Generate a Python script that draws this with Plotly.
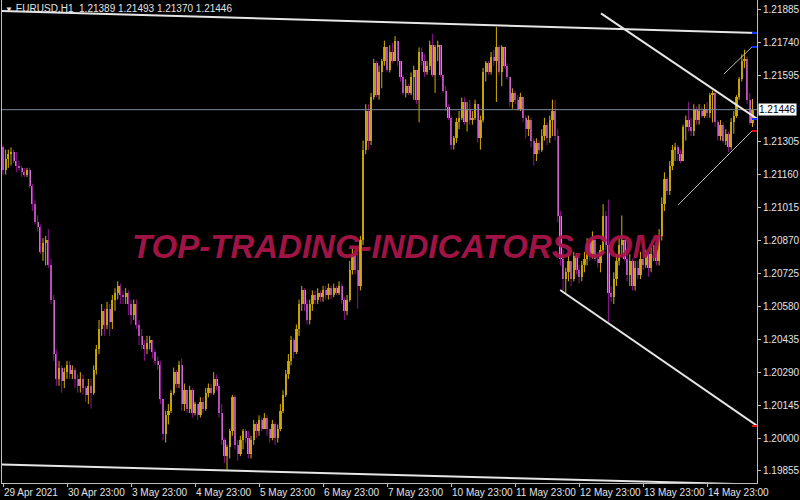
import plotly.graph_objects as go

# ---------------- data (EURUSD H1) ----------------
first_open = 1.2128
close = [
    1.2118, 1.2123, 1.2125, 1.2126, 1.2122, 1.2120, 1.2119, 1.2117, 1.2116, 1.2118,
    1.2111, 1.2103, 1.2095, 1.2093, 1.2082, 1.2086, 1.2087, 1.2076, 1.2061, 1.2037,
    1.2026, 1.2031, 1.2025, 1.2029, 1.2032, 1.2028, 1.2030, 1.2026, 1.2023, 1.2026,
    1.2022, 1.2019, 1.2023, 1.2020, 1.2030, 1.2039, 1.2048, 1.2056, 1.2050, 1.2057,
    1.2051, 1.2061, 1.2064, 1.2067, 1.2063, 1.2062, 1.2064, 1.2059, 1.2054, 1.2059,
    1.2050, 1.2045, 1.2041, 1.2039, 1.2042, 1.2043, 1.2038, 1.2034, 1.2032, 1.2017,
    1.2002, 1.2010, 1.2012, 1.2020, 1.2029, 1.2024, 1.2032, 1.2015, 1.2021, 1.2013,
    1.2021, 1.2011, 1.2015, 1.2010, 1.2016, 1.2013, 1.2020, 1.2022, 1.2020, 1.2026,
    1.2023, 1.2011, 1.1999, 1.1992, 1.1996, 1.2003, 1.2018, 1.1997, 1.1993, 1.1999,
    1.2003, 1.2000, 1.1993, 1.1999, 1.2006, 1.2003, 1.2008, 1.2004, 1.2009, 1.2004,
    1.2000, 1.2006, 1.2000, 1.2004, 1.2012, 1.2019, 1.2028, 1.2034, 1.2043, 1.2038,
    1.2048, 1.2059, 1.2065, 1.2059, 1.2052, 1.2059, 1.2063, 1.2061, 1.2064, 1.2062,
    1.2065, 1.2063, 1.2066, 1.2063, 1.2066, 1.2064, 1.2067, 1.2061, 1.2056, 1.2061,
    1.2074, 1.2081, 1.2074, 1.2067, 1.2087, 1.2127, 1.2144, 1.2131, 1.2150, 1.2165,
    1.2151, 1.2161, 1.2166, 1.2172, 1.2162, 1.2170, 1.2166, 1.2175, 1.2166, 1.2159,
    1.2152, 1.2155, 1.2152, 1.2159, 1.2162, 1.2149, 1.2170, 1.2166, 1.2161, 1.2164,
    1.2173, 1.2160, 1.2172, 1.2173, 1.2160, 1.2153, 1.2146, 1.2141, 1.2129, 1.2132,
    1.2139, 1.2141, 1.2148, 1.2139, 1.2145, 1.2140, 1.2141, 1.2147, 1.2132, 1.2140,
    1.2161, 1.2165, 1.2161, 1.2168, 1.2166, 1.2172, 1.2161, 1.2172, 1.2164, 1.2159,
    1.2148, 1.2152, 1.2149, 1.2145, 1.2150, 1.2141, 1.2136, 1.2140, 1.2131, 1.2125,
    1.2130, 1.2127, 1.2133, 1.2138, 1.2132, 1.2140, 1.2144, 1.2133, 1.2098, 1.2079,
    1.2070, 1.2073, 1.2078, 1.2070, 1.2080, 1.2074, 1.2071, 1.2076, 1.2079, 1.2086,
    1.2081, 1.2087, 1.2079, 1.2077, 1.2083, 1.2098, 1.2085, 1.2064, 1.2062, 1.2070,
    1.2078, 1.2085, 1.2087, 1.2079, 1.2072, 1.2078, 1.2067, 1.2075, 1.2072, 1.2079,
    1.2076, 1.2081, 1.2075, 1.2081, 1.2083, 1.2078, 1.2089, 1.2103, 1.2114, 1.2109,
    1.2120, 1.2127, 1.2128, 1.2125, 1.2122, 1.2137, 1.2140, 1.2137, 1.2135, 1.2145,
    1.2140, 1.2144, 1.2142, 1.2145, 1.2143, 1.2151, 1.2152, 1.2139, 1.2133, 1.2138,
    1.2131, 1.2134, 1.2128, 1.2139, 1.2142, 1.2150, 1.2158, 1.2166, 1.2167, 1.2149,
    1.21389, 1.21446,
]
high = [
    1.2129, 1.2127, 1.2127, 1.2128, 1.2127, 1.2126, 1.2122, 1.2120, 1.2119, 1.2119,
    1.2119, 1.2112, 1.2105, 1.2098, 1.2094, 1.2088, 1.2089, 1.2092, 1.2079, 1.2063,
    1.2039, 1.2034, 1.2032, 1.2031, 1.2034, 1.2034, 1.2032, 1.2031, 1.2028, 1.2029,
    1.2028, 1.2023, 1.2026, 1.2026, 1.2032, 1.2041, 1.2052, 1.2059, 1.2057, 1.2060,
    1.2059, 1.2063, 1.2066, 1.2069, 1.2068, 1.2065, 1.2066, 1.2065, 1.2061, 1.2061,
    1.2061, 1.2052, 1.2048, 1.2043, 1.2045, 1.2045, 1.2043, 1.2039, 1.2036, 1.2034,
    1.2017, 1.2012, 1.2015, 1.2021, 1.2031, 1.2030, 1.2034, 1.2035, 1.2024, 1.2021,
    1.2023, 1.2022, 1.2016, 1.2015, 1.2018, 1.2018, 1.2022, 1.2024, 1.2024, 1.2029,
    1.2028, 1.2024, 1.2015, 1.2000, 1.1997, 1.2004, 1.2019, 1.2019, 1.1999, 1.2001,
    1.2004, 1.2004, 1.2003, 1.2001, 1.2008, 1.2007, 1.2010, 1.2009, 1.2011, 1.2010,
    1.2004, 1.2008, 1.2007, 1.2006, 1.2015, 1.2021, 1.2030, 1.2037, 1.2045, 1.2044,
    1.2050, 1.2061, 1.2067, 1.2066, 1.2061, 1.2061, 1.2065, 1.2065, 1.2066, 1.2065,
    1.2067, 1.2067, 1.2068, 1.2067, 1.2068, 1.2067, 1.2069, 1.2068, 1.2062, 1.2063,
    1.2078, 1.2084, 1.2082, 1.2081, 1.2089, 1.2131, 1.2147, 1.2147, 1.2152, 1.2167,
    1.2166, 1.2164, 1.2167, 1.2175, 1.2171, 1.2173, 1.2174, 1.2177, 1.2175, 1.2166,
    1.2160, 1.2158, 1.2156, 1.2161, 1.2164, 1.2162, 1.2172, 1.2172, 1.2169, 1.2166,
    1.2175, 1.2178, 1.2173, 1.2175, 1.2173, 1.2160, 1.2155, 1.2147, 1.2142, 1.2133,
    1.2141, 1.2144, 1.2150, 1.2150, 1.2148, 1.2149, 1.2144, 1.2149, 1.2147, 1.2142,
    1.2163, 1.2166, 1.2166, 1.2170, 1.2171, 1.2181, 1.2173, 1.2173, 1.2172, 1.2165,
    1.2159, 1.2154, 1.2153, 1.2151, 1.2152, 1.2150, 1.2142, 1.2142, 1.2141, 1.2132,
    1.2132, 1.2131, 1.2136, 1.2141, 1.2139, 1.2142, 1.2149, 1.2149, 1.2136, 1.2100,
    1.2083, 1.2075, 1.2081, 1.2078, 1.2082, 1.2081, 1.2076, 1.2078, 1.2082, 1.2088,
    1.2087, 1.2091, 1.2088, 1.2082, 1.2085, 1.2103, 1.2100, 1.2105, 1.2067, 1.2073,
    1.2081, 1.2088, 1.2098, 1.2087, 1.2081, 1.2081, 1.2079, 1.2078, 1.2078, 1.2082,
    1.2082, 1.2083, 1.2082, 1.2084, 1.2085, 1.2085, 1.2092, 1.2106, 1.2117, 1.2115,
    1.2122, 1.2129, 1.2130, 1.2129, 1.2127, 1.2138, 1.2142, 1.2148, 1.2141, 1.2147,
    1.2146, 1.2147, 1.2146, 1.2147, 1.2148, 1.2152, 1.2153, 1.2153, 1.2140, 1.2140,
    1.2139, 1.2136, 1.2135, 1.2141, 1.2144, 1.2151, 1.2159, 1.2169, 1.2171, 1.2168,
    1.2152, 1.21493,
]
low = [
    1.2116, 1.2116, 1.2119, 1.2120, 1.2121, 1.2117, 1.2118, 1.2115, 1.2115, 1.2115,
    1.2110, 1.2100, 1.2094, 1.2091, 1.2081, 1.2078, 1.2076, 1.2075, 1.2059, 1.2034,
    1.2023, 1.2023, 1.2020, 1.2022, 1.2026, 1.2026, 1.2026, 1.2022, 1.2020, 1.2020,
    1.2019, 1.2016, 1.2015, 1.2013, 1.2019, 1.2028, 1.2037, 1.2045, 1.2045, 1.2048,
    1.2045, 1.2048, 1.2056, 1.2061, 1.2059, 1.2059, 1.2059, 1.2054, 1.2050, 1.2052,
    1.2048, 1.2041, 1.2039, 1.2034, 1.2037, 1.2039, 1.2035, 1.2032, 1.2030, 1.2015,
    1.1999, 1.1998, 1.2006, 1.2011, 1.2019, 1.2022, 1.2022, 1.2012, 1.2012, 1.2011,
    1.2011, 1.2009, 1.2010, 1.2008, 1.2009, 1.2011, 1.2012, 1.2018, 1.2019, 1.2019,
    1.2021, 1.2009, 1.1997, 1.1989, 1.1986, 1.1991, 1.2001, 1.1995, 1.1990, 1.1992,
    1.1995, 1.1998, 1.1991, 1.1991, 1.1997, 1.2000, 1.2001, 1.2003, 1.2004, 1.2001,
    1.1998, 1.1999, 1.1997, 1.1998, 1.2003, 1.2011, 1.2018, 1.2026, 1.2032, 1.2035,
    1.2037, 1.2045, 1.2056, 1.2056, 1.2050, 1.2050, 1.2056, 1.2059, 1.2059, 1.2060,
    1.2060, 1.2061, 1.2061, 1.2061, 1.2062, 1.2063, 1.2063, 1.2059, 1.2052, 1.2054,
    1.2060, 1.2072, 1.2072, 1.2057, 1.2065, 1.2085, 1.2125, 1.2127, 1.2129, 1.2149,
    1.2150, 1.2149, 1.2154, 1.2164, 1.2161, 1.2161, 1.2165, 1.2166, 1.2164, 1.2157,
    1.2151, 1.2150, 1.2151, 1.2151, 1.2149, 1.2147, 1.2139, 1.2164, 1.2159, 1.2160,
    1.2162, 1.2159, 1.2152, 1.2166, 1.2159, 1.2152, 1.2144, 1.2140, 1.2127, 1.2127,
    1.2130, 1.2136, 1.2140, 1.2138, 1.2135, 1.2138, 1.2138, 1.2140, 1.2130, 1.2127,
    1.2139, 1.2157, 1.2160, 1.2160, 1.2164, 1.2148, 1.2160, 1.2155, 1.2163, 1.2158,
    1.2146, 1.2145, 1.2147, 1.2144, 1.2144, 1.2139, 1.2132, 1.2133, 1.2128, 1.2120,
    1.2122, 1.2125, 1.2126, 1.2131, 1.2129, 1.2130, 1.2133, 1.2131, 1.2095, 1.2076,
    1.2065, 1.2064, 1.2069, 1.2067, 1.2069, 1.2072, 1.2068, 1.2069, 1.2073, 1.2076,
    1.2078, 1.2079, 1.2078, 1.2075, 1.2073, 1.2081, 1.2083, 1.2051, 1.2060, 1.2059,
    1.2067, 1.2076, 1.2081, 1.2078, 1.2069, 1.2067, 1.2065, 1.2065, 1.2070, 1.2070,
    1.2074, 1.2075, 1.2071, 1.2073, 1.2078, 1.2076, 1.2076, 1.2087, 1.2100, 1.2107,
    1.2107, 1.2118, 1.2122, 1.2122, 1.2121, 1.2122, 1.2131, 1.2135, 1.2133, 1.2133,
    1.2138, 1.2138, 1.2141, 1.2141, 1.2141, 1.2141, 1.2139, 1.2137, 1.2131, 1.2131,
    1.2130, 1.2129, 1.2126, 1.2127, 1.2134, 1.2141, 1.2149, 1.2157, 1.2163, 1.2147,
    1.2138, 1.21370,
]

# x-axis labels (one every 24 H1 bars)
tick_bars = [0, 24, 48, 72, 96, 120, 144, 168, 192, 216, 240, 264]
tick_labels = ["29 Apr 2021", "30 Apr 23:00", "3 May 23:00", "4 May 23:00",
               "5 May 23:00", "6 May 23:00", "7 May 23:00", "10 May 23:00",
               "11 May 23:00", "12 May 23:00", "13 May 23:00", "14 May 23:00"]

# price-axis labels
price_ticks = [1.21885, 1.21740, 1.21595, 1.21305, 1.21160, 1.21015, 1.20870,
               1.20725, 1.20580, 1.20435, 1.20290, 1.20145, 1.20000, 1.19855]

# trend lines: (bar0, price0) -> (bar1, price1)
tl_x0 = [-1.2, -1.2, 224.2, 208.9, 270.3, 253.1]
tl_y0 = [1.21881, 1.19884, 1.21870, 1.20652, 1.21603, 1.21026]
tl_x1 = [282.8, 282.8, 282.8, 282.8, 280.8, 280.8]
tl_y1 = [1.21784, 1.19795, 1.21405, 1.20053, 1.21722, 1.21352]
tl_width = [2, 2, 2, 2, 1, 1]
tl_tag = ["blue", None, "blue", "red", "blue", "red"]

WATERMARK = "TOP-TRADING-INDICATORS.COM"

# ---------------- build ----------------
assert len(close) == len(high) == len(low)
N = len(close)
bars = list(range(N))
opens = [first_open] + close[:-1]
hi = [max(h, o, c) for h, o, c in zip(high, opens, close)]
lo = [min(l, o, c) for l, o, c in zip(low, opens, close)]
is_bull = [c >= o for o, c in zip(opens, close)]

BULL_BODY = "#B89A0C"
BULL_WICK = "#D4AE00"
BEAR_BODY = "#DE7EDE"
BEAR_WICK = "#8E168E"

fig = go.Figure()

# wicks
for bull_flag, col in ((True, BULL_WICK), (False, BEAR_WICK)):
    wx, wy = [], []
    for i in bars:
        if is_bull[i] == bull_flag:
            wx += [i, i, None]
            wy += [lo[i], hi[i], None]
    fig.add_trace(go.Scatter(x=wx, y=wy, mode="lines", hoverinfo="skip",
                             line=dict(color=col, width=1)))

# bodies
fig.add_trace(go.Bar(
    x=bars,
    y=[abs(c - o) for o, c in zip(opens, close)],
    base=[min(o, c) for o, c in zip(opens, close)],
    width=0.85,
    marker=dict(color=[BULL_BODY if b else BEAR_BODY for b in is_bull],
                line=dict(width=0)),
    hoverinfo="skip",
))

X_MIN, X_MAX = -0.375, 282.7
Y_MIN, Y_MAX = 1.19802, 1.21929

# current price line
fig.add_trace(go.Scatter(x=[X_MIN, X_MAX], y=[close[-1], close[-1]], mode="lines",
                         line=dict(color="#7D8C9C", width=1), hoverinfo="skip"))

# trend lines
for x0, y0, x1, y1, w in zip(tl_x0, tl_y0, tl_x1, tl_y1, tl_width):
    fig.add_trace(go.Scatter(x=[x0, x1], y=[y0, y1], mode="lines",
                             line=dict(color="#E6E6E6" if w > 1 else "#BDBDBD", width=w),
                             hoverinfo="skip"))

# small coloured tags at the right end of the trend lines
for y1, tag in zip(tl_y1, tl_tag):
    if tag is None:
        continue
    fig.add_trace(go.Scatter(x=[N - 1.2, X_MAX], y=[y1, y1], mode="lines",
                             line=dict(color="#1030FF" if tag == "blue" else "#E01010", width=2),
                             hoverinfo="skip"))

FONT = "Liberation Sans, Arial, sans-serif"
TXT = "#E2E2E2"

annotations = []
# x labels, left aligned at their tick
for b, t in zip(tick_bars, tick_labels):
    annotations.append(dict(x=b, xref="x", y=0, yref="paper", text=t,
                            xanchor="left", yanchor="top", showarrow=False,
                            xshift=-1, yshift=-2,
                            font=dict(family=FONT, size=10, color=TXT)))
# header
annotations.append(dict(
    x=0, xref="paper", y=1, yref="paper", xanchor="left", yanchor="top",
    showarrow=False, xshift=1, yshift=-1,
    text="<span style='font-size:8px'>▼</span> EURUSD,H1  %.5f %.5f %.5f %.5f"
         % (opens[-1], hi[-1], lo[-1], close[-1]),
    font=dict(family=FONT, size=10, color=TXT)))
# current price box
annotations.append(dict(
    x=1, xref="paper", y=close[-1], yref="y", xanchor="left", yanchor="middle",
    showarrow=False, xshift=1, text="%.5f" % close[-1], bgcolor="#FFFFFF",
    borderpad=0, font=dict(family=FONT, size=10, color="#000000")))
# watermark
annotations.append(dict(
    x=0.522, xref="paper", y=0.489, yref="paper", xanchor="center", yanchor="middle",
    showarrow=False, text="<b><i>%s</i></b>" % WATERMARK,
    font=dict(family=FONT, size=33, color="rgba(170,22,74,0.95)")))

fig.update_layout(
    width=800, height=500,
    margin=dict(l=2, r=43, t=0, b=17),
    paper_bgcolor="#000000", plot_bgcolor="#000000",
    showlegend=False, bargap=0,
    annotations=annotations,
    xaxis=dict(range=[X_MIN, X_MAX], showgrid=False, zeroline=False,
               showline=True, linecolor="#BEBEBE", linewidth=1,
               ticks="outside", ticklen=3, tickcolor="#BEBEBE",
               tickvals=tick_bars, showticklabels=False, fixedrange=True),
    yaxis=dict(range=[Y_MIN, Y_MAX], side="right", showgrid=False, zeroline=False,
               showline=True, mirror=True, linecolor="#BEBEBE", linewidth=1,
               ticks="outside", ticklen=3, tickcolor="#BEBEBE",
               tickvals=price_ticks, ticktext=["%.5f" % p for p in price_ticks],
               tickfont=dict(family=FONT, size=10, color=TXT), fixedrange=True),
)

fig.write_html("out.html", config={"displayModeBar": False},
               post_script="document.body.style.margin='0';document.body.style.padding='0';"
                           "document.body.style.background='#000';")
